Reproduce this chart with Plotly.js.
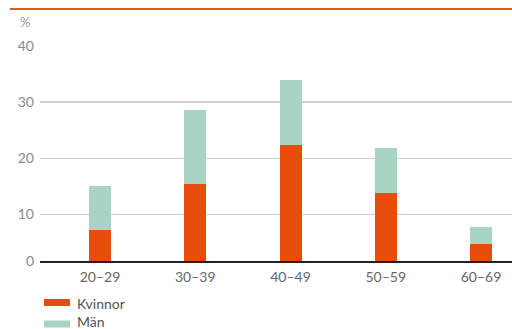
<!DOCTYPE html>
<html>
<head>
<meta charset="utf-8">
<script src="https://cdn.plot.ly/plotly-3.0.1.min.js"></script>
<style>
html,body{margin:0;padding:0;background:#fff;}
#chart{width:512px;height:329px;}
</style>
</head>
<body>
<div id="chart"></div>
<script>
const categories = ["20–29", "30–39", "40–49", "50–59", "60–69"];
const kvinnor = [7.2, 15.4, 22.3, 13.7, 4.7];
const man = [7.8, 13.2, 11.6, 8.2, 3.0];
const yTickVals = [1.66, 10, 20, 30, 40];
const yTickText = ["0", "10", "20", "30", "40"];
const seriesNames = ["Kvinnor", "Män"];

const orange = "#e84c0a";
const green = "#a8d5c2";
const FONT = "Lato, 'Open Sans', sans-serif";

const traces = [
  {type: "bar", name: seriesNames[0], x: categories, y: kvinnor, marker: {color: orange}, width: 0.231, hoverinfo: "skip"},
  {type: "bar", name: seriesNames[1], x: categories, y: man, marker: {color: green}, width: 0.231, hoverinfo: "skip"}
];

// paper coordinate helpers (plot area: x 40..512, y 46..261)
const L = 40, R = 512, T = 46, B = 261;
const px = v => (v - L) / (R - L);
const py = v => (B - v) / (B - T);

const layout = {
  width: 512, height: 329,
  margin: {l: L, r: 512 - R, t: T, b: 329 - B, pad: 0},
  paper_bgcolor: "#fff", plot_bgcolor: "#fff",
  barmode: "stack",
  showlegend: false,
  font: {family: FONT, size: 14, color: "#555"},
  xaxis: {
    type: "category",
    range: [-0.63, 4.325],
    showline: true, linecolor: "#222", linewidth: 1.5,
    ticks: "", showgrid: false, zeroline: false,
    tickfont: {family: FONT, size: 14, color: "#666"},
    ticklabelstandoff: 3
  },
  yaxis: {
    range: [1.66, 40],
    tickmode: "array", tickvals: yTickVals, ticktext: yTickText,
    showgrid: true, gridcolor: "#cfcfcf", gridwidth: 1.2,
    zeroline: false, showline: false, ticks: "",
    tickfont: {family: FONT, size: 14, color: "#888"},
    ticklabelstandoff: 5
  },
  shapes: [
    {type: "line", xref: "paper", yref: "paper", x0: px(10), x1: px(512), y0: py(9), y1: py(9), line: {color: "#e8561c", width: 2}},
    {type: "rect", xref: "paper", yref: "paper", x0: px(44), x1: px(70), y0: py(306), y1: py(299), fillcolor: orange, line: {width: 0}},
    {type: "rect", xref: "paper", yref: "paper", x0: px(44), x1: px(70), y0: py(327.5), y1: py(320.5), fillcolor: green, line: {width: 0}}
  ],
  annotations: [
    {text: "%", xref: "paper", yref: "paper", x: px(25), y: py(22), showarrow: false, xanchor: "center", yanchor: "middle", font: {family: FONT, size: 13, color: "#999"}},
    {text: seriesNames[0], xref: "paper", yref: "paper", x: px(76), y: py(303), showarrow: false, xanchor: "left", yanchor: "middle", borderpad: 0, font: {family: FONT, size: 14, color: "#555"}},
    {text: seriesNames[1], xref: "paper", yref: "paper", x: px(76), y: py(321.5), showarrow: false, xanchor: "left", yanchor: "middle", borderpad: 0, font: {family: FONT, size: 14, color: "#555"}}
  ]
};

Plotly.newPlot("chart", traces, layout, {staticPlot: true, displayModeBar: false});
</script>
</body>
</html>
